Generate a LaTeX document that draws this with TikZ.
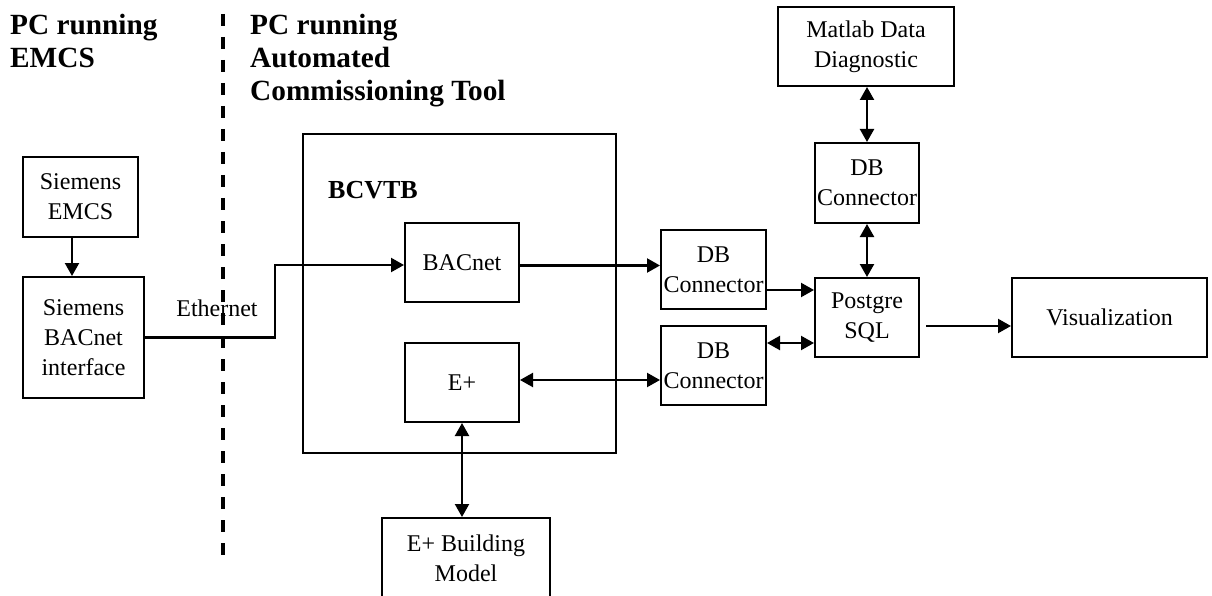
\documentclass[tikz,border=0pt]{standalone}
\usepackage{fontspec}
\setmainfont{Liberation Serif}
\usetikzlibrary{arrows.meta,calc}
\begin{document}
\begin{tikzpicture}[x=1pt,y=-1pt,
  box/.style={draw,line width=2pt,align=center,inner sep=0pt,font=\fontsize{24}{30}\selectfont},
  hdr/.style={align=left,inner sep=0pt,anchor=north west,font=\fontsize{29.3}{33.2}\selectfont\bfseries},
  lbl/.style={inner sep=0pt,font=\fontsize{24}{30}\selectfont},
  arr/.style={line width=2.2pt,-{Triangle[length=13pt,width=14pt]}},
  darr/.style={line width=2.2pt,{Triangle[length=13pt,width=14pt]}-{Triangle[length=13pt,width=14pt]}},
  sep/.style={line width=3.3pt,dash pattern=on 12pt off 11pt}]
\useasboundingbox (0,0) rectangle (1212,596);
% headers
\node[hdr] (h1) at (10,14) {PC running\\EMCS};
\node[hdr] (h2) at (250,14) {PC running\\Automated\\Commissioning Tool};
% separator
\coordinate (st) at (223,14);
\coordinate (sb) at (223,566);
\draw[sep] (st) -- (sb);
% left boxes
\node[box,minimum width=115pt,minimum height=80pt] (emcs) at (80.5,197) {Siemens\\EMCS};
\node[box,minimum width=121pt,minimum height=121pt] (bif) at (83.5,337.5) {Siemens\\BACnet\\interface};
% BCVTB
\node[draw,line width=2pt,minimum width=313pt,minimum height=319pt,inner sep=0pt] (bcvtb) at (459.5,293.5) {};
\node[lbl,anchor=base west,font=\fontsize{26}{30}\selectfont\bfseries] (bcl) at (328,199) {BCVTB};
\node[box,minimum width=114pt,minimum height=79pt] (bacnet) at (462,262.5) {BACnet};
\node[box,minimum width=114pt,minimum height=79pt] (eplus) at (462,382.5) {E+};
\node[box,minimum width=168pt,minimum height=80pt] (bm) at (466,558) {E+ Building\\Model};
% right side
\node[box,minimum width=176pt,minimum height=79pt] (matlab) at (866,46.5) {Matlab Data\\Diagnostic};
\node[box,minimum width=104pt,minimum height=80pt] (dbt) at (867,183) {DB\\Connector};
\node[box,minimum width=105pt,minimum height=79pt] (db1) at (713.5,269.5) {DB\\Connector};
\node[box,minimum width=105pt,minimum height=79pt] (db2) at (713.5,365.5) {DB\\Connector};
\node[box,minimum width=104pt,minimum height=79pt] (pg) at (867,317.5) {Postgre\\SQL};
\node[box,minimum width=195pt,minimum height=79pt] (vis) at (1109.5,317.5) {Visualization};
% Ethernet
\node[lbl] (eth) at (217,308) {Ethernet};
% connectors
\draw[arr] ([xshift=-8.5pt]emcs.south) -- ([xshift=-8.5pt]emcs.south |- bif.north);
\coordinate (bend) at (275,337.5);
\draw[arr] (bif.east) -- (bend) |- ([yshift=-2.5pt]bacnet.west);
\draw[arr] ([yshift=-3pt]bacnet.east) -- ([yshift=-3pt]bacnet.east -| db1.west);
\draw[arr] ([yshift=-20.5pt]db1.east) -- ([yshift=-20.5pt]db1.east -| pg.west);
\draw[darr] ([yshift=22.5pt]db2.east) -- ([yshift=22.5pt]db2.east -| pg.west);
\draw[darr] ([yshift=2.5pt]eplus.east) -- ([yshift=2.5pt]eplus.east -| db2.west);
\draw[darr] (eplus.south) -- (eplus.south |- bm.north);
\draw[darr] (dbt.north |- matlab.south) -- (dbt.north);
\draw[darr] (dbt.south) -- (pg.north);
\draw[arr] ([xshift=6pt,yshift=-8.5pt]pg.east) -- ([yshift=-8.5pt]pg.east -| vis.west);
\end{tikzpicture}
\end{document}
